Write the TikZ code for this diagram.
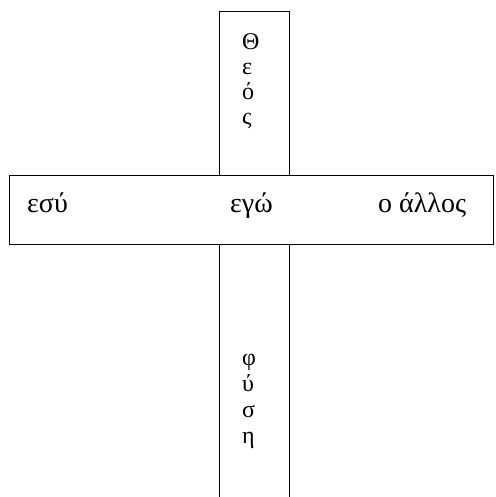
\documentclass[tikz,border=0pt]{standalone}
\usepackage{fontspec}
\setmainfont{Liberation Serif}
\usetikzlibrary{positioning}

\tikzset{
  bar/.style={draw=black, fill=white, line width=1.2pt, inner sep=0pt},
  word/.style={inner sep=0pt, font=\fontsize{28}{30}\selectfont},
  column/.style={inner sep=0pt, align=left, font=\fontsize{24}{25}\selectfont}
}

\begin{document}
\begin{tikzpicture}[x=1pt, y=1pt]
  \useasboundingbox (0,0) rectangle (495,497);
  % the upright bar, running off the bottom edge
  \node[bar, anchor=north west, minimum width=70pt, minimum height=500pt] (vbar) at (219,486) {};
  % the cross bar, laid over it
  \node[bar, anchor=north west, minimum width=484pt, minimum height=69pt] (hbar) at (9,322) {};
  \node[word, anchor=base west] (esy) at (27,284) {εσύ};
  \node[word, anchor=base west] (ego) at (230,284) {εγώ};
  \node[word, anchor=base west] (allos) at (378,284) {ο άλλος};
  \node[column, anchor=north west] (theos) at (242,464) {Θ\\ε\\ό\\ς};
  \node[column, anchor=north west, font=\fontsize{24}{26}\selectfont] (fysi) at (242,143) {φ\\ύ\\σ\\η};
\end{tikzpicture}
\end{document}
